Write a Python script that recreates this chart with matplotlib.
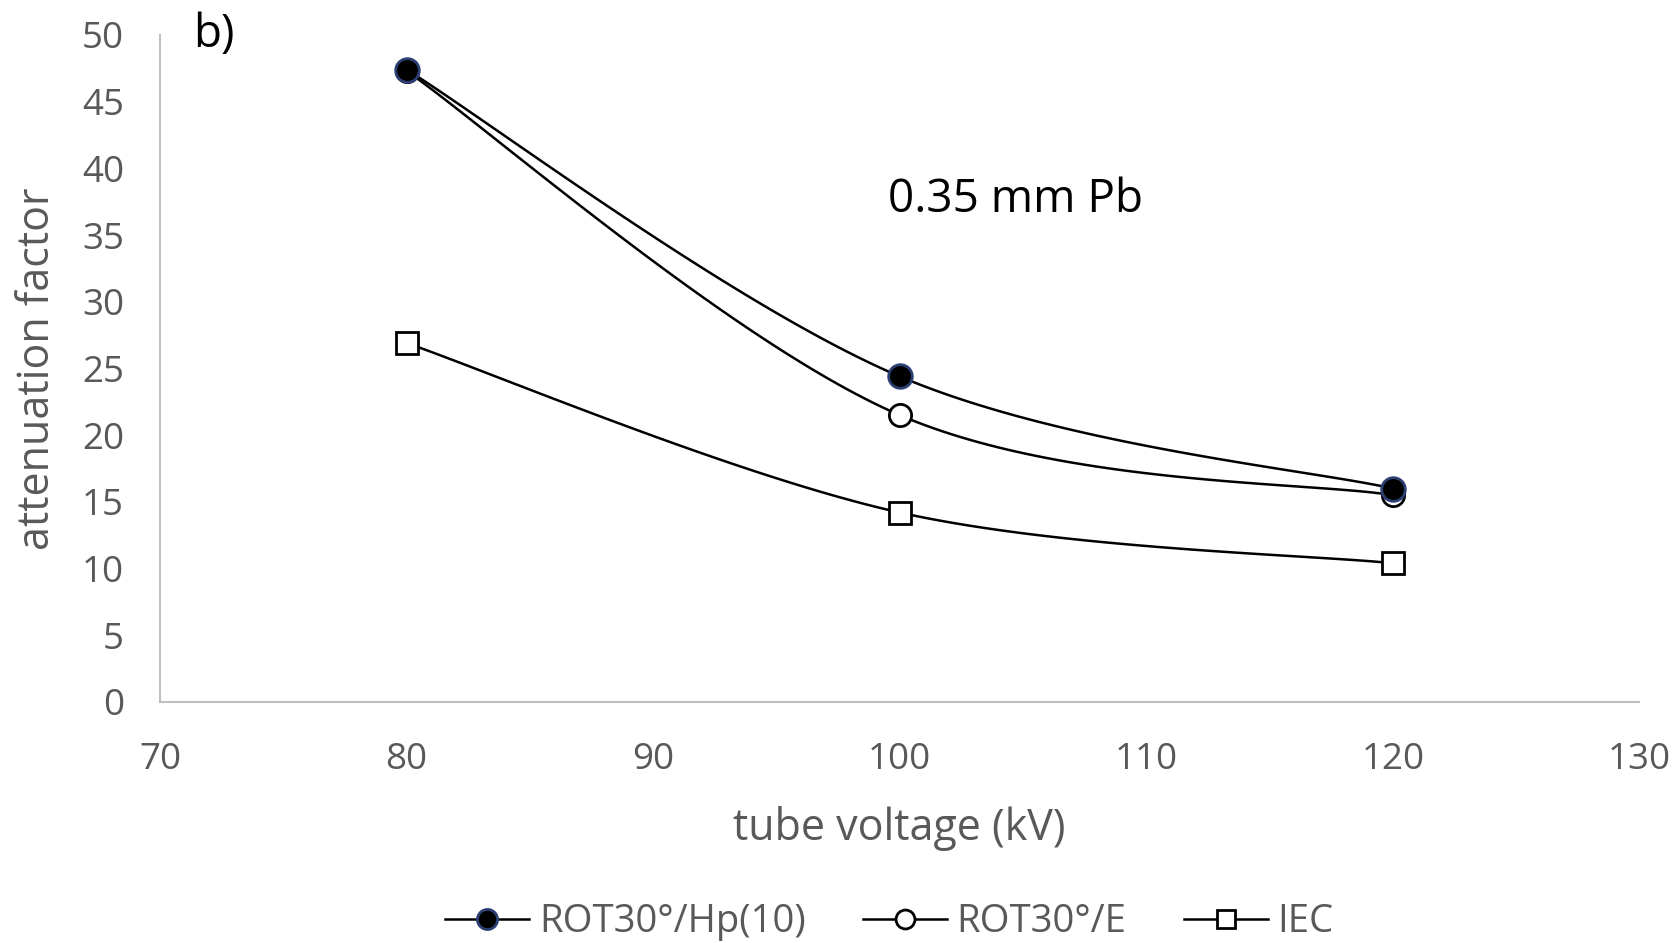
import numpy as np
import matplotlib.pyplot as plt

kv = [80, 100, 120]
hp10 = [47.4, 24.4, 16.0]
rot_e = [47.3, 21.5, 15.5]
iec = [26.9, 14.2, 10.4]

labels = ["ROT30°/Hp(10)", "ROT30°/E", "IEC"]

plt.rcParams['font.family'] = ['Open Sans', 'DejaVu Sans']

def smooth(x, y, n=60):
    # catmull-rom style bezier, like excel smoothed lines
    x = np.asarray(x, float)
    y = np.asarray(y, float)
    px = np.concatenate([[x[0]], x, [x[-1]]])
    py = np.concatenate([[y[0]], y, [y[-1]]])
    xs, ys = [], []
    t = np.linspace(0, 1, n)
    for i in range(1, len(px) - 2):
        p0 = np.array([px[i], py[i]])
        p3 = np.array([px[i + 1], py[i + 1]])
        p1 = p0 + (np.array([px[i + 1], py[i + 1]]) - np.array([px[i - 1], py[i - 1]])) / 6
        p2 = p3 - (np.array([px[i + 2], py[i + 2]]) - np.array([px[i], py[i]])) / 6
        b = ((1 - t) ** 3)[:, None] * p0 + (3 * (1 - t) ** 2 * t)[:, None] * p1 \
            + (3 * (1 - t) * t ** 2)[:, None] * p2 + (t ** 3)[:, None] * p3
        xs.append(b[:, 0])
        ys.append(b[:, 1])
    return np.concatenate(xs), np.concatenate(ys)

fig = plt.figure(figsize=(16.78, 9.43), dpi=100)
ax = fig.add_axes([0.0954, 0.2556, 0.8816, 0.7074])

gray = '#595959'
styles = [
    dict(marker='o', markersize=17, markerfacecolor='black', markeredgecolor='#2b3f73', markeredgewidth=2),
    dict(marker='o', markersize=16, markerfacecolor='white', markeredgecolor='black', markeredgewidth=2),
    dict(marker='s', markersize=16, markerfacecolor='white', markeredgecolor='black', markeredgewidth=2),
]
zs = [5, 4, 3]
handles = []
for ys, lab, st, z in zip([hp10, rot_e, iec], labels, styles, zs):
    sx, sy = smooth(kv, ys)
    ax.plot(sx, sy, color='black', lw=1.8, zorder=2)
    ax.plot(kv, ys, linestyle='none', zorder=z, **st)
    h, = ax.plot([], [], color='black', lw=1.8, label=lab, **st)
    handles.append(h)

ax.set_xlim(70, 130)
ax.set_ylim(0, 50)
ax.set_xticks(np.arange(70, 131, 10))
ax.set_yticks(np.arange(0, 51, 5))
ax.tick_params(length=0, labelsize=26.5, colors=gray)
ax.tick_params(axis='x', pad=29)
ax.tick_params(axis='y', pad=26)
for s in ['top', 'right']:
    ax.spines[s].set_visible(False)
for s in ['left', 'bottom']:
    ax.spines[s].set_color('#bfbfbf')
    ax.spines[s].set_linewidth(1.5)

ax.set_xlabel('tube voltage (kV)', fontsize=31, color=gray, labelpad=20)
ax.set_ylabel('attenuation factor', fontsize=31, color=gray, labelpad=16)

ax.text(104.7, 37.6, '0.35 mm Pb', fontsize=33, ha='center', va='center', color='black')
fig.text(0.115, 0.963, 'b)', fontsize=33, ha='left', va='center', color='black')

leg = fig.legend(handles=handles, loc='center', bbox_to_anchor=(0.53, 0.022), ncol=3,
                 frameon=False, fontsize=27.5, handlelength=2.2, columnspacing=1.5,
                 handletextpad=0.25, markerscale=0.85)
for t in leg.get_texts():
    t.set_color(gray)

fig.savefig('out.png', dpi=100)
